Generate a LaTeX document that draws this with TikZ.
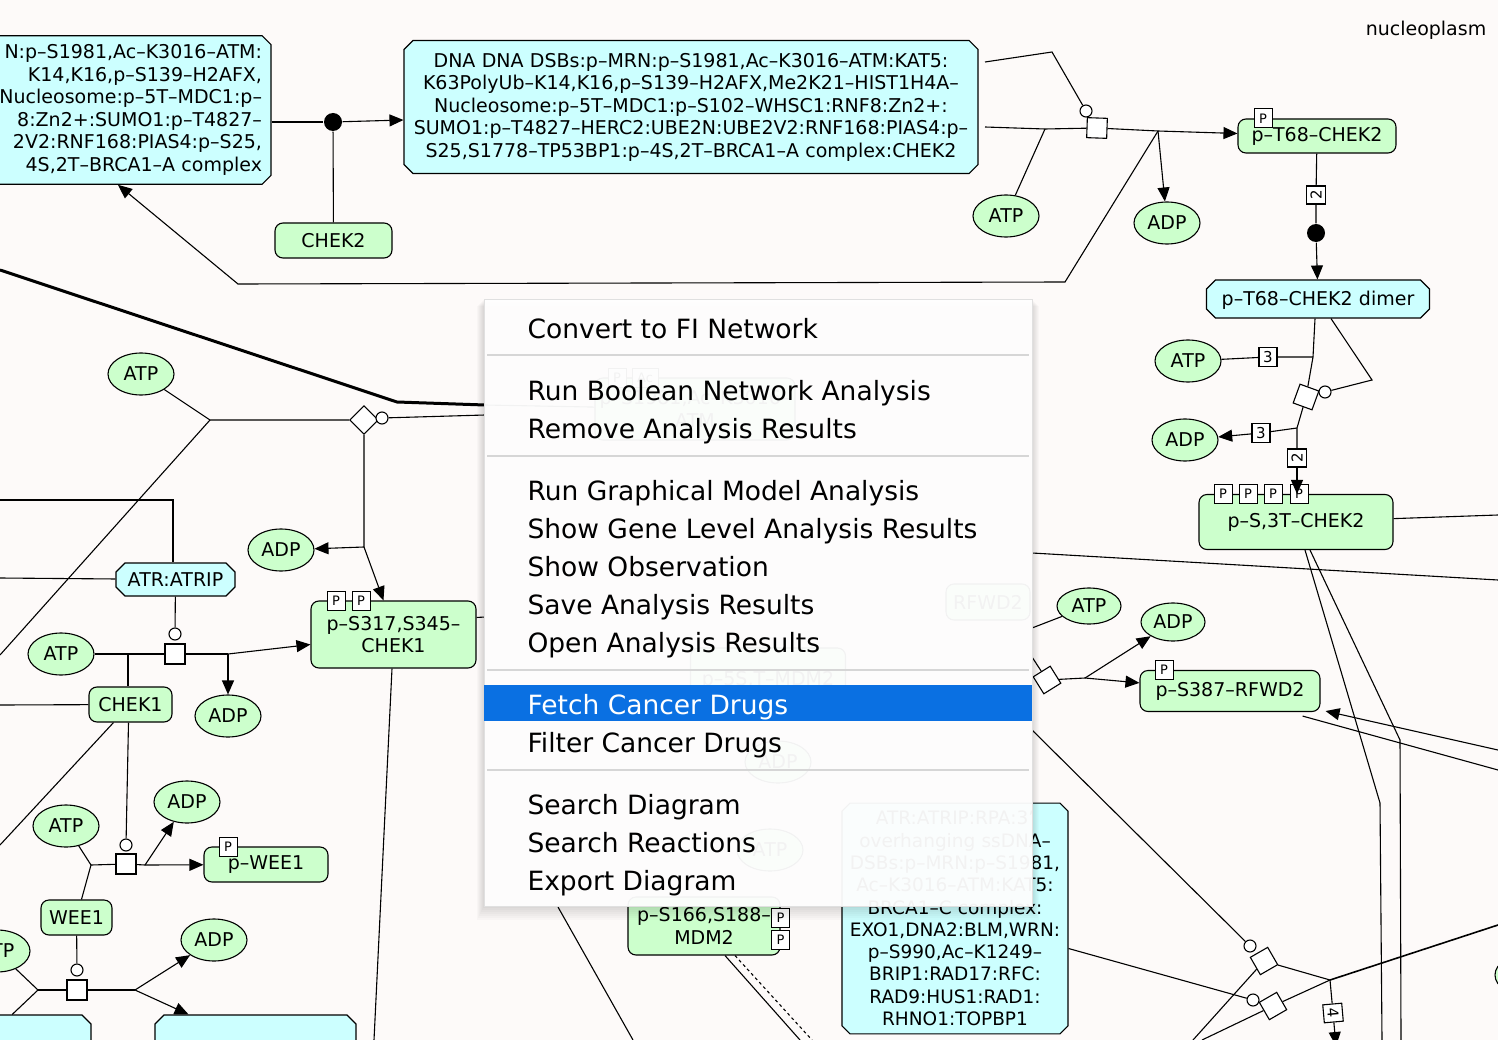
\documentclass[tikz,border=0pt]{standalone}
\usepackage{fontspec}
\setmainfont{DejaVu Sans}
\usetikzlibrary{positioning,shapes.geometric,shapes.misc,arrows.meta}

\definecolor{paper}{RGB}{253,250,249}
\definecolor{cplxcyan}{RGB}{204,255,255}
\definecolor{protgreen}{RGB}{204,255,204}
\definecolor{menublue}{RGB}{10,112,226}
\definecolor{sepgray}{RGB}{214,214,214}

\tikzset{
  lbl/.style={font=\fontsize{19}{22.5}\selectfont},
  cplx/.style={chamfered rectangle, chamfered rectangle sep=4.5pt,
    draw, fill=cplxcyan, inner sep=4.5pt, align=center, lbl},
  oneline/.style={text height=17pt, text depth=3pt},
  prot/.style={rectangle, rounded corners=8pt, draw, fill=protgreen, inner sep=0pt, align=center, lbl},
  smol/.style={ellipse, draw, fill=protgreen, minimum width=66pt, minimum height=42pt, inner sep=0pt, lbl},
  pbox/.style={rectangle, draw, fill=white, line width=0.9pt, minimum width=18pt, minimum height=19pt,
    inner sep=0pt, font=\fontsize{13}{13}\selectfont},
  stoich/.style={rectangle, draw, fill=white, minimum width=18pt, minimum height=19pt, inner sep=0pt,
    font=\fontsize{15}{15}\selectfont},
  rsq/.style={rectangle, draw, fill=white, minimum size=20pt, inner sep=0pt},
  cat/.style={circle, draw, fill=white, minimum size=12pt, inner sep=0pt},
  bdot/.style={circle, fill=black, minimum size=18pt, inner sep=0pt},
  menubox/.style={rectangle, fill=white, fill opacity=0.95, draw=black!12, line width=0.8pt},
  menuitem/.style={anchor=base west, inner sep=0pt, font=\fontsize{26.5}{30}\selectfont},
  menusep/.style={sepgray, line width=2pt},
}

\begin{document}
\begin{tikzpicture}[x=1pt,y=-1pt,line width=1.1pt,>={Triangle[length=14pt,width=12pt]}]
\useasboundingbox (0,0) rectangle (1498,1040);
\fill[paper] (0,0) rectangle (1498,1040);

% compartment
\node[lbl] (nucleo) at (1426,30) {nucleoplasm};

% complexes
\node[cplx, text width=404pt, align=right] (atmcplx) at (60,110)
  {N:p–S1981,Ac–K3016–ATM:\\K14,K16,p–S139–H2AFX,\hspace*{32pt}\\Nucleosome:p–5T–MDC1:p–\hspace*{5pt}\\
   8:Zn2+:SUMO1:p–T4827–\hspace*{27pt}\\2V2:RNF168:PIAS4:p–S25,\hspace*{25pt}\\4S,2T–BRCA1–A complex\hspace*{26pt}};
\node[cplx, text width=556pt, inner ysep=8pt] (dsbcplx) at (691,107)
  {DNA DNA DSBs:p–MRN:p–S1981,Ac–K3016–ATM:KAT5:\\K63PolyUb–K14,K16,p–S139–H2AFX,Me2K21–HIST1H4A–\\
   Nucleosome:p–5T–MDC1:p–S102–WHSC1:RNF8:Zn2+:\\SUMO1:p–T4827–HERC2:UBE2N:UBE2V2:RNF168:PIAS4:p–\\
   S25,S1778–TP53BP1:p–4S,2T–BRCA1–A complex:CHEK2};
\node[cplx, oneline, text width=205pt] (dimer) at (1318,299) {p–T68–CHEK2 dimer};
\node[cplx, inner ysep=3.5pt, text height=15.5pt, text depth=1.5pt, text width=101pt]
  (atrip) at (175.5,579.5) {ATR:ATRIP};
\node[cplx, chamfered rectangle sep=4pt, inner xsep=0pt, inner ysep=4pt, text width=218pt,
  font=\fontsize{18.5}{22.3}\selectfont] (cplxC) at (955,918.5)
  {ATR:ATRIP:RPA:3'\\overhanging ssDNA–\\DSBs:p–MRN:p–S1981,\\Ac–K3016–ATM:KAT5:\\BRCA1–C complex:\\
   EXO1,DNA2:BLM,WRN:\\p–S990,Ac–K1249–\\BRIP1:RAD17:RFC:\\RAD9:HUS1:RAD1:\\RHNO1:TOPBP1};
\node[cplx, text width=204pt, text height=42pt, text depth=0pt] (cplxL) at (-20,1045) {};
\node[cplx, text width=183pt, text height=42pt, text depth=0pt] (cplxM) at (255.5,1045) {};

% proteins
\node[prot, minimum width=117pt, minimum height=35pt] (chek2) at (333.5,240.5) {CHEK2};
\node[prot, minimum width=158pt, minimum height=34pt] (pt68) at (1317,136) {p–T68–CHEK2};
\node[prot, minimum width=194pt, minimum height=55pt] (ps3t) at (1296,522) {p–S,3T–CHEK2};
\node[prot, minimum width=180pt, minimum height=41pt] (rfwd2) at (1230,691) {p–S387–RFWD2};
\node[prot, minimum width=165pt, minimum height=67pt] (pchek1) at (393.5,634.5) {p–S317,S345–\\CHEK1};
\node[prot, minimum width=83pt, minimum height=35pt] (chek1) at (130.5,704.5) {CHEK1};
\node[prot, minimum width=124pt, minimum height=35pt] (pwee1) at (266,864.5) {p–WEE1};
\node[prot, minimum width=71pt, minimum height=35pt] (wee1) at (76.5,917.5) {WEE1};
\node[prot, minimum width=152pt, minimum height=58pt] (mdm2) at (704,926) {p–S166,S188–\\MDM2};

% residues
\node[pbox] (pt68p) at ([xshift=-54pt]pt68.north) {P};
\foreach \dx [count=\i] in {-73,-48,-23,3} {
  \node[pbox] (ps3tp\i) at ([xshift=\dx pt]ps3t.north) {P};
}
\node[pbox] (rfwd2p) at ([xshift=-66pt]rfwd2.north) {P};
\node[pbox] (pchek1p1) at ([xshift=-57.5pt]pchek1.north) {P};
\node[pbox] (pchek1p2) at ([xshift=-32.5pt]pchek1.north) {P};
\node[pbox] (pwee1p) at ([xshift=-38pt]pwee1.north) {P};
\node[pbox] (mdm2p1) at ([yshift=8pt]mdm2.east) {P};
\node[pbox] (mdm2p2) at ([yshift=-14pt]mdm2.east) {P};

% small molecules
\node[smol] (atpA) at (1006,216) {ATP};
\node[smol] (adpA) at (1167,223) {ADP};
\node[smol] (atpB) at (1188,361) {ATP};
\node[smol] (adpB) at (1185,440) {ADP};
\node[smol] (atpC) at (141,374) {ATP};
\node[smol] (adpC) at (281,550) {ADP};
\node[smol] (atpD) at (61,654) {ATP};
\node[smol] (adpD) at (228,716) {ADP};
\node[smol] (adpE) at (187,802) {ADP};
\node[smol] (atpE) at (66,826) {ATP};
\node[smol] (adpF) at (214,940) {ADP};
\node[smol] (atpF) at (-3,951) {ATP};
\node[smol, minimum width=64pt, minimum height=36pt] (atpG) at (1089,606) {ATP};
\node[smol, minimum width=64pt, minimum height=38pt] (adpG) at (1173,622) {ADP};
\node[smol] (smolR) at (1528,975) {};

% reaction glyphs
\node[bdot] (dotA) at (333,122) {};
\node[rsq, rotate=-2] (sqB) at (1097,128) {};
\node[cat] (circB) at (1086,111) {};
\node[stoich, rotate=90] (st2a) at (1316,195) {2};
\node[bdot] (dotC) at (1316,233) {};
\node[rsq, rotate=-20] (sqD) at (1306,397) {};
\node[cat] (circD) at (1325,392) {};
\node[stoich] (st3a) at (1268,357) {3};
\node[stoich] (st3b) at (1261,433) {3};
\node[stoich, rotate=90] (st2b) at (1297,458) {2};
\node[rsq, rotate=45] (sqE) at (364,420) {};
\node[cat] (circE) at (382,418) {};
\node[rsq] (sqF) at (175,654) {};
\node[cat] (circF) at (175,634) {};
\node[rsq] (sqG) at (126,864) {};
\node[cat] (circG) at (126,845) {};
\node[rsq] (sqH) at (77,990) {};
\node[cat] (circH) at (77,970) {};
\node[rsq, rotate=32] (sqI) at (1047,680) {};
\node[rsq, rotate=30] (sqK) at (1264,961) {};
\node[cat] (circK) at (1250,946) {};
\node[rsq, rotate=30] (sqL) at (1273,1006) {};
\node[cat] (circL) at (1253,1000) {};
\node[stoich, rotate=-85] (st4) at (1333,1013) {4};

% free ends
\coordinate (dsbR1) at (985,62);
\coordinate (dsbR2) at (985,127);
\coordinate (cB1) at (1052,52);
\coordinate (jB0) at (1045,129);
\coordinate (jB1) at (1158,131);
\coordinate (cB2) at (1065,282);
\coordinate (cB3) at (238,284);
\coordinate (jD0) at (1313,357);
\coordinate (cD1) at (1372,380);
\coordinate (jD1) at (1297,428);
\coordinate (edgeL1) at (0,270);
\coordinate (cE1) at (397,402);
\coordinate (menuL1) at (485,405);
\coordinate (jE0) at (210,420);
\coordinate (edgeL2) at (0,655);
\coordinate (menuL2) at (485,415);
\coordinate (jE1) at (364,547);
\coordinate (edgeL3) at (0,500);
\coordinate (cF1) at (173,500);
\coordinate (edgeL4) at (0,578);
\coordinate (jF0) at (128,654);
\coordinate (jF1) at (228,654);
\coordinate (edgeL5) at (0,705);
\coordinate (menuL3) at (485,617);
\coordinate (edgeB1) at (374,1040);
\coordinate (edgeL6) at (0,845);
\coordinate (jG0) at (91,865);
\coordinate (jG1) at (145,865);
\coordinate (jH0) at (38,990);
\coordinate (jH1) at (135,990);
\coordinate (menuR1) at (1032,628);
\coordinate (menuR2) at (1032,657);
\coordinate (jI1) at (1085,678);
\coordinate (edgeR1) at (1498,750);
\coordinate (edgeR2) at (1498,770);
\coordinate (menuR3) at (1032,553);
\coordinate (edgeR3) at (1498,580);
\coordinate (edgeR4) at (1498,515);
\coordinate (cJ1) at (1380,803);
\coordinate (edgeB2) at (1382,1040);
\coordinate (cJ2) at (1400,740);
\coordinate (edgeB3) at (1401,1040);
\coordinate (menuR4) at (1032,730);
\coordinate (jK) at (1330,980);
\coordinate (edgeB4) at (1193,1040);
\coordinate (edgeB5) at (1202,1040);
\coordinate (edgeR5) at (1498,925);
\coordinate (edgeB6) at (1336,1046);
\coordinate (menuB1) at (558,907);
\coordinate (edgeB7) at (633,1040);
\coordinate (edgeB8) at (800,1040);
\coordinate (edgeB9) at (812,1040);

% CHEK2 binding
\draw (atmcplx.east |- dotA) -- (dotA);
\draw[->] (dotA) -- ([yshift=-13pt]dsbcplx.west);
\draw (chek2) -- (dotA);
% CHEK2 phosphorylation
\draw (dsbR1) -- (cB1) -- (circB);
\draw (dsbR2) -- (jB0) -- (sqB);
\draw (atpA) -- (jB0);
\draw (sqB) -- (jB1);
\draw[->] (jB1) -- (pt68);
\draw[->] (jB1) -- (adpA);
\draw[->] (jB1) -- (cB2) -- (cB3) -- ([xshift=58pt]atmcplx.south);
% dimerisation
\draw (pt68) -- (st2a) -- (dotC);
\draw[->] (dotC) -- (dimer);
% autophosphorylation
\draw ([xshift=-3pt]dimer.south) -- (jD0) -- (sqD);
\draw ([xshift=13pt]dimer.south) -- (cD1) -- (circD);
\draw (atpB) -- (st3a) -- (jD0);
\draw (sqD) -- (jD1) -- (st2b);
\draw (jD1) -- (st3b);
\draw[->] (st3b) -- (adpB);
\draw[->] (st2b) -- ([xshift=1pt]ps3t.north);
% CHEK1 phosphorylation
\draw[line width=3pt] (edgeL1) -- (cE1) -- (menuL1);
\draw (atpC) -- (jE0) -- (sqE);
\draw (jE0) -- (edgeL2);
\draw (circE) -- (menuL2);
\draw (sqE) -- (jE1);
\draw[->] (jE1) -- (adpC);
\draw[->] (jE1) -- ([xshift=-10pt]pchek1.north);
\draw (edgeL3) -- (cF1) -- (cF1 |- atrip.north);
\draw (edgeL4) -- (atrip);
\draw (atrip) -- (circF);
\draw (atpD) -- (jF0) -- (sqF);
\draw (jF0) -- (jF0 |- chek1.north);
\draw (sqF) -- (jF1);
\draw[->] (jF1) -- (adpD);
\draw[->] (jF1) -- ([yshift=-10pt]pchek1.west);
\draw (edgeL5) -- (chek1);
\draw ([yshift=17pt]pchek1.east) -- (menuL3);
\draw ([xshift=-1.5pt]pchek1.south) -- (edgeB1);
% WEE1 phosphorylation
\draw ([xshift=-2pt]chek1.south) -- (circG);
\draw ([xshift=-17pt]chek1.south) -- (edgeL6);
\draw (atpE) -- (jG0) -- (wee1);
\draw (jG0) -- (sqG) -- (jG1);
\draw[->] (jG1) -- (pwee1);
\draw[->] (jG1) -- (adpE);
\draw (wee1) -- (circH);
\draw (atpF) -- (jH0) -- (cplxL);
\draw (jH0) -- (sqH) -- (jH1);
\draw[->] (jH1) -- (adpF);
\draw[->] (jH1) -- (cplxM);
% RFWD2 phosphorylation
\draw (atpG) -- (menuR1);
\draw (menuR2) -- (sqI) -- (jI1);
\draw[->] (jI1) -- (rfwd2);
\draw[->] (jI1) -- (adpG);
\draw[->] (edgeR1) -- ([xshift=5pt,yshift=1pt]rfwd2.south east);
\draw ([xshift=-18pt,yshift=-4pt]rfwd2.south east) -- (edgeR2);
\draw (menuR3) -- (edgeR3);
\draw (ps3t) -- (edgeR4);
\draw ([xshift=9pt]ps3t.south) -- (cJ1) -- (edgeB2);
\draw ([xshift=14pt]ps3t.south) -- (cJ2) -- (edgeB3);
% lower right
\draw (menuR4) -- (circK);
\draw (edgeB4) -- (sqK) -- (jK);
\draw ([yshift=-30pt]cplxC.east) -- (circL);
\draw (edgeB5) -- (sqL) -- (jK);
\draw[line width=1.6pt] (jK) -- (edgeR5);
\draw (jK) -- (st4);
\draw[->] (st4) -- (edgeB6);
% lower middle
\draw (menuB1) -- (edgeB7);
\draw ([xshift=21pt]mdm2.south) -- (edgeB8);
\draw[dashed] ([xshift=31pt]mdm2.south) -- (edgeB9);

% hidden under the menu
\node[prot, minimum width=200pt, minimum height=62pt] (gatm) at (695,409) {p–S1981,Ac–K3016–\\ATM};
\node[pbox] (gatmp) at ([xshift=-78pt]gatm.north) {P};
\node[pbox, minimum width=26pt] (gatma) at ([xshift=-50pt]gatm.north) {Ac};
\node[prot, minimum width=84pt, minimum height=36pt] (grfwd) at (988,602) {RFWD2};
\node[prot, minimum width=155pt, minimum height=64pt] (gmdm) at (768,680) {p–5S,T–MDM2};
\node[smol] (gadp) at (778,762) {ADP};
\node[smol] (gatp) at (770,850) {ATP};
\draw (menuL1) -- (gatm);

% context menu
\foreach \s in {2,4,...,14} {
  \fill[black, fill opacity=0.018] (484-\s/2,299+\s/2) rectangle (1032+\s/2,906+\s);
}
\node[menubox, minimum width=548pt, minimum height=607pt] (menu) at (758,602.5) {};
\fill[menublue] (484,685) rectangle (1032,721);
\foreach \y in {355,456,670,770} {
  \draw[menusep] (487,\y) -- (1029,\y);
}
\foreach \txt/\y [count=\i] in {Convert to FI Network/338, Run Boolean Network Analysis/400,
    Remove Analysis Results/438, Run Graphical Model Analysis/500, Show Gene Level Analysis Results/538,
    Show Observation/576, Save Analysis Results/614, Open Analysis Results/652,
    Filter Cancer Drugs/752, Search Diagram/814, Search Reactions/852, Export Diagram/890} {
  \node[menuitem] (item\i) at (527,\y) {\txt};
}
\node[menuitem, text=white] (itemfetch) at (527,714) {Fetch Cancer Drugs};

\end{tikzpicture}
\end{document}
